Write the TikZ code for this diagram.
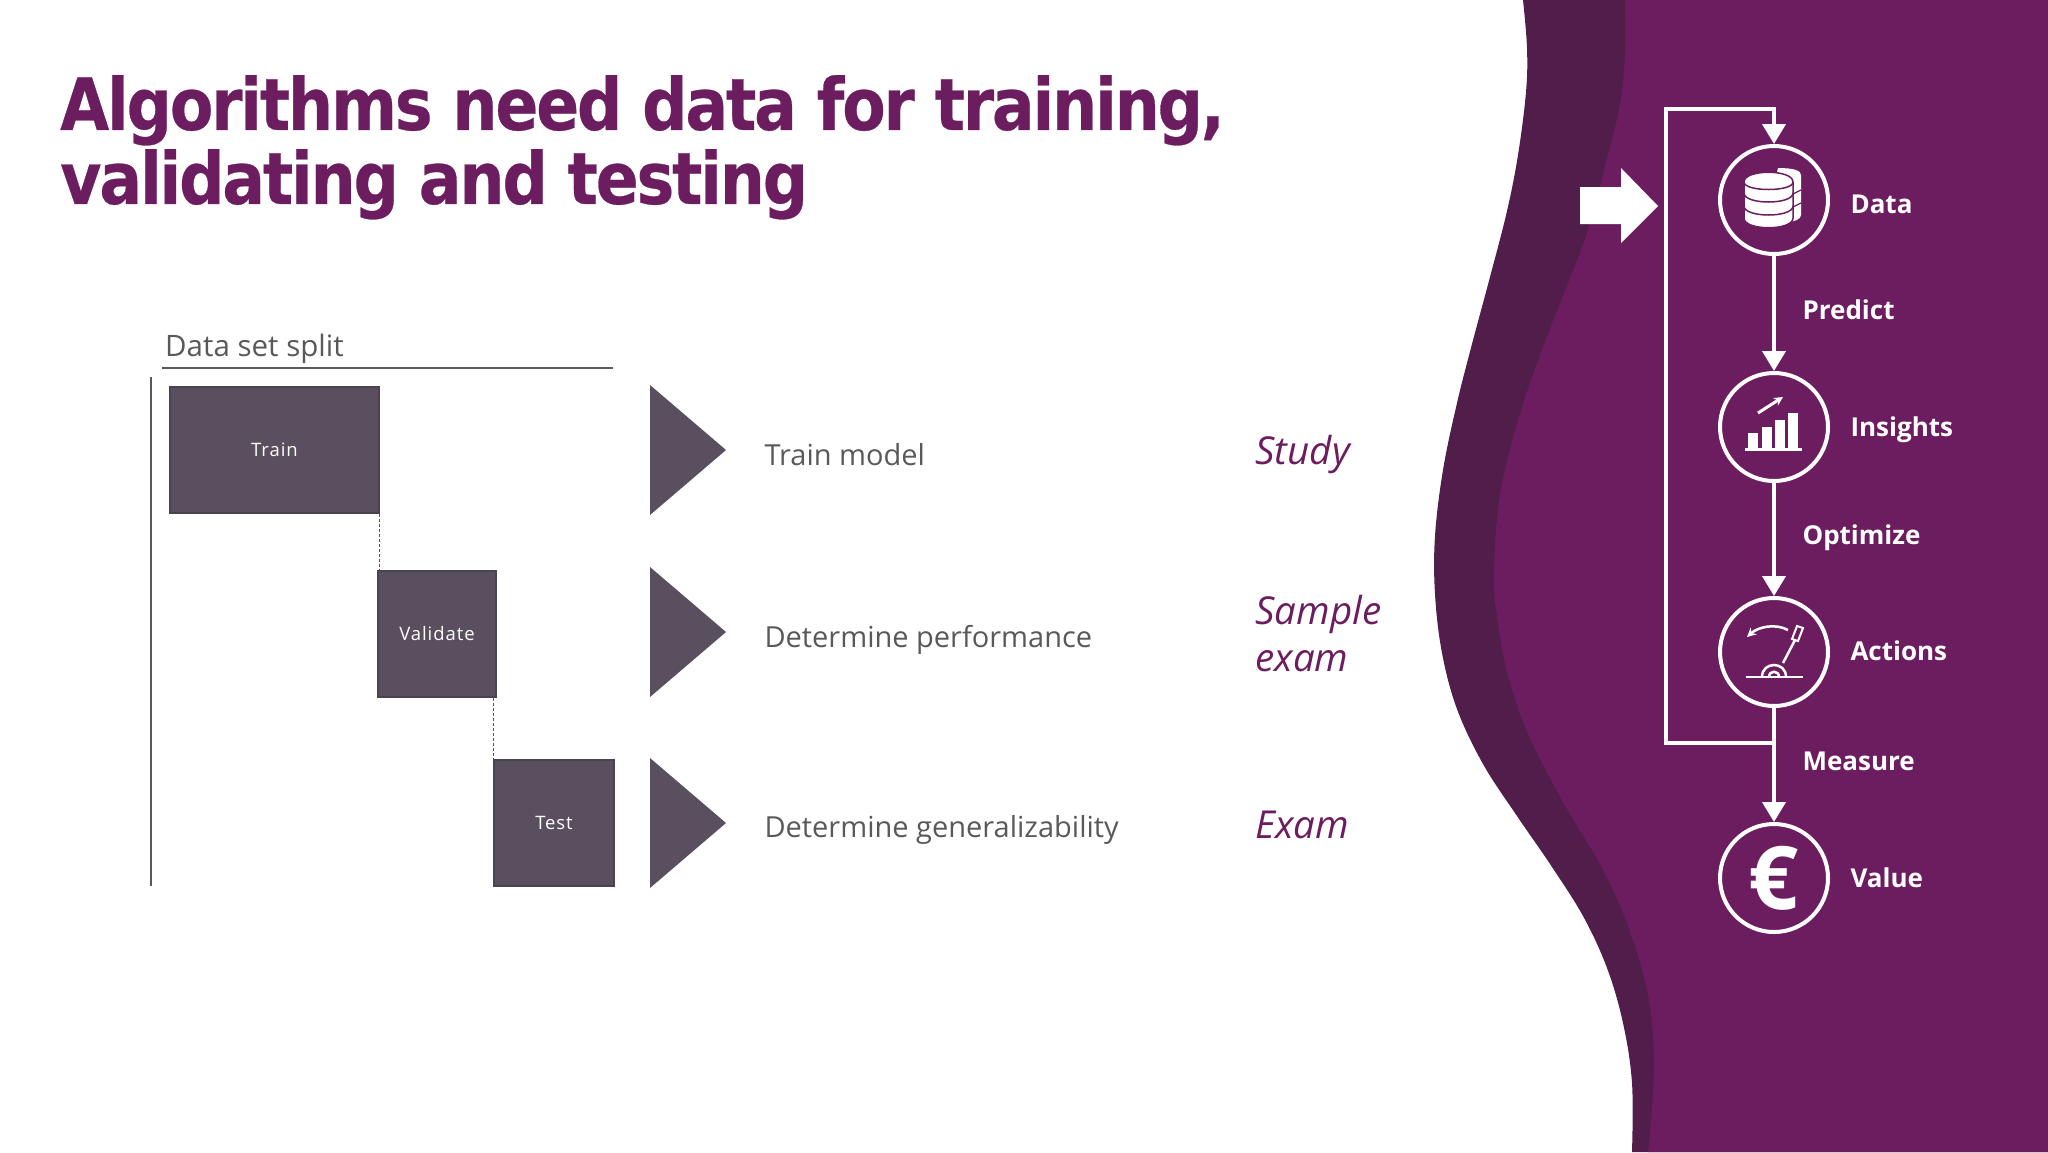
\documentclass[tikz,border=0pt]{standalone}
\usepackage{fontspec}
\setmainfont{Open Sans}
\newfontfamily\titlefont[FakeStretch=0.88,LetterSpace=-3,FakeBold=0.4]{DejaVu Sans}
\usetikzlibrary{positioning,arrows.meta}
\definecolor{plum}{HTML}{6C1D5F}
\definecolor{darkplum}{HTML}{511D4A}
\definecolor{slate}{HTML}{5A4F5E}
\definecolor{greytext}{HTML}{595959}

\begin{document}
\begin{tikzpicture}[x=1pt,y=-1pt,
    split box/.style={rectangle,draw=slate!85!black,line width=1.5pt,fill=slate,inner sep=0pt,text=white,font=\fontsize{18.5}{22}\selectfont\addfontfeatures{LetterSpace=5}},
    step label/.style={anchor=west,text=greytext,font=\fontsize{29}{36}\selectfont},
    study label/.style={anchor=west,text=plum,font=\fontsize{38.5}{48}\itshape\selectfont},
    flow node/.style={circle,draw=white,line width=4pt,minimum size=108pt,inner sep=0pt,text=white},
    flow label/.style={anchor=west,text=white,font=\fontsize{26}{32}\bfseries\selectfont},
    flow arrow/.style={draw=white,line width=4pt,-{Triangle[length=20pt,width=23pt]}}]
    \useasboundingbox (0,0) rectangle (2048,1152);

    % waves on the right
    \fill[darkplum] plot[smooth,tension=0.6] coordinates {(1523,0) (1527,48) (1526,92) (1518,155) (1507,211) (1490,277) (1472,344) (1457,403) (1443,470) (1435,536) (1435,594) (1442,653) (1457,709) (1483,764) (1517,816) (1550,864) (1583,916) (1607,968) (1623,1023) (1632,1083) (1632,1152)} -- (2048,1152) -- (2048,0) -- cycle;
    \fill[plum] plot[smooth,tension=0.6] coordinates {(1625,0) (1625,55) (1620,104) (1608,155) (1587,233) (1563,296) (1540,355) (1520,414) (1505,470) (1497,518) (1494,580) (1497,616) (1507,672) (1530,738) (1567,809) (1600,864) (1627,923) (1647,990) (1654,1053) (1652,1108) (1648,1152)} -- (2048,1152) -- (2048,0) -- cycle;

    \node[anchor=north west,align=left,text=plum,inner sep=0pt,font=\titlefont\fontsize{72}{74}\bfseries\selectfont] (title) at (60,75) {Algorithms need data for training,\\validating and testing};

    % data set split
    \node[anchor=west,inner sep=0pt,text=greytext,font=\fontsize{29.5}{34}\selectfont] (split) at (165,349) {Data set split};
    \coordinate (rule left) at (162,368);
    \coordinate (rule right) at (613,368);
    \coordinate (axis top) at (151,377);
    \coordinate (axis bottom) at (151,886);
    \draw[greytext,line width=1.5pt] (rule left) -- (rule right);
    \draw[greytext,line width=1.5pt] (axis top) -- (axis bottom);

    \node[split box,minimum width=209pt,minimum height=126pt] (train) at (274.5,450) {Train};
    \node[split box,minimum width=118pt,minimum height=126pt] (validate) at (437,634) {Validate};
    \node[split box,minimum width=120pt,minimum height=126pt] (test) at (554,823) {Test};
    \draw[slate,densely dashed,line width=1pt] (train.south east) -- (train.south east |- validate.north);
    \draw[slate,densely dashed,line width=1pt] (test.north west |- validate.south) -- (test.north west);

    \foreach \y in {450,632,823}
      \fill[slate] (650,\y-65) -- (726,\y) -- (650,\y+65) -- cycle;

    \node[step label] (model) at (761,455) {Train model};
    \node[step label] (performance) at (761,640) {Determine performance};
    \node[step label] (general) at (761,830) {Determine generalizability};

    \node[study label] (study) at (1252,454) {Study};
    \node[study label] (sample) at (1252,614) {Sample};
    \node[study label] (examb) at (1252,661) {exam};
    \node[study label] (exam) at (1252,825) {Exam};

    % flow
    \fill[white] (1580,187) -- (1621,187) -- (1621,168) -- (1658,206) -- (1621,243) -- (1621,224) -- (1580,224) -- cycle;

    \node[flow node] (data) at (1774,200) {};
    \node[flow node] (insights) at (1774,427) {};
    \node[flow node] (actions) at (1774,652) {};
    \node[flow node,font=\fontsize{88}{90}\bfseries\selectfont] (value) at (1774,878) {€};

    \node[flow label] (datal) at (1847,204) {Data};
    \node[flow label] (insightsl) at (1847,430) {Insights};
    \node[flow label] (actionsl) at (1847,651) {Actions};
    \node[flow label] (valuel) at (1847,878) {Value};
    \node[flow label] (predict) at (1799,310) {Predict};
    \node[flow label] (optimize) at (1799,538) {Optimize};
    \node[flow label] (measure) at (1799,761) {Measure};

    \coordinate (junction) at (1774,743);
    \coordinate (loop bottom) at (1666,743);
    \coordinate (loop top) at (1666,109);
    \coordinate (loop right) at (1774,109);
    \path[flow arrow] (data) -- (insights);
    \path[flow arrow] (insights) -- (actions);
    \path[flow arrow] (actions) -- (value);
    \path[flow arrow] (junction) -- (loop bottom) -- (loop top) -- (loop right) -- (data);

    % database icon
    \fill[white] (1778,168) .. controls (1795,168) and (1801,171) .. (1801,175) -- (1801,215) .. controls (1801,219) and (1795,222) .. (1785,222) -- (1770,200) -- cycle;
    \fill[white,draw=plum,line width=1.5pt] (1744,182) .. controls (1744,169) and (1793,169) .. (1793,182) -- (1793,218) .. controls (1793,231) and (1744,231) .. (1744,218) -- cycle;
    \draw[plum,line width=1.5pt] (1744,182) .. controls (1744,192) and (1793,192) .. (1793,182);
    \draw[plum,line width=1.5pt] (1744,193) .. controls (1744,205) and (1793,205) .. (1793,193);
    \draw[plum,line width=1.5pt] (1744,206) .. controls (1744,218) and (1793,218) .. (1793,206);
    \draw[plum,line width=1.2pt] (1793,194) -- (1801,190);
    \draw[plum,line width=1.2pt] (1793,207) -- (1801,203);

    % chart icon
    \fill[white] (1748,433) rectangle (1758,449);
    \fill[white] (1762,427) rectangle (1772,449);
    \fill[white] (1775,420) rectangle (1785,449);
    \fill[white] (1788,413) rectangle (1798,449);
    \fill[white] (1745,448) rectangle (1802,451);
    \draw[white,line width=3pt,-{Stealth[length=9pt,width=9pt]}] (1758,413) -- (1783,397);

    % lever icon
    \draw[white,line width=2.5pt] (1746,677) -- (1803,677);
    \draw[white,line width=2.5pt] (1762,677) .. controls (1762,661) and (1786,661) .. (1786,677);
    \draw[white,line width=2.5pt] (1769,677) .. controls (1769,670) and (1779,670) .. (1779,677);
    \draw[white,line width=2.5pt] (1783,663) -- (1795,640);
    \draw[white,line width=2pt,fill=plum] (1792,639) -- (1797,626) -- (1803,628) -- (1798,641) -- cycle;
    \draw[white,line width=2.5pt,-{Stealth[length=9pt,width=9pt]}] (1788,630) .. controls (1775,623) and (1758,627) .. (1747,637);
\end{tikzpicture}
\end{document}
